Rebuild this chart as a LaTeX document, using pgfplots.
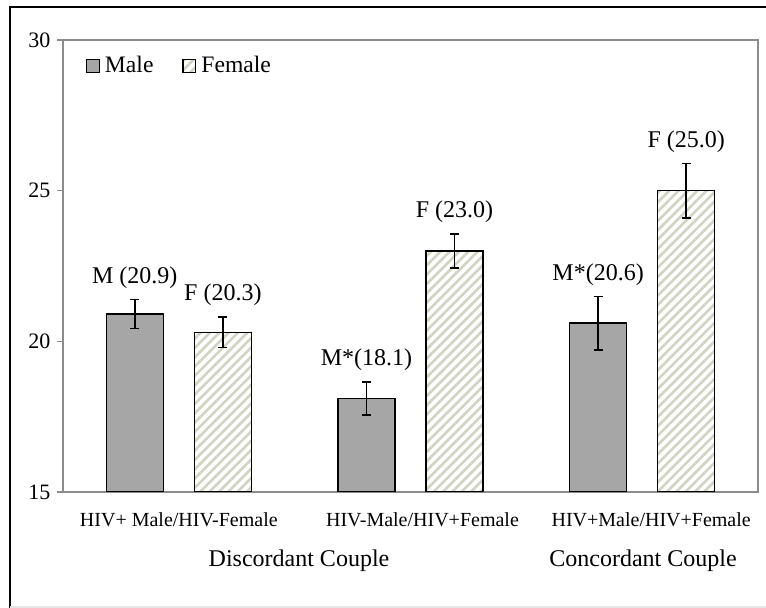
\documentclass[border=0pt]{standalone}
\usepackage{pgfplots}
\pgfplotsset{compat=1.18}
\usepackage{pgfplotstable}
\usepackage{fontspec}
\setmainfont{Liberation Serif}
\usetikzlibrary{patterns.meta}
\definecolor{malefill}{HTML}{A6A6A6}
\definecolor{hatch}{HTML}{D3D3C3}
\definecolor{axgray}{HTML}{8C8C8C}

\pgfplotstableread{
x y err lab
0 20.9 0.48 {M (20.9)}
1 18.1 0.55 {M*(18.1)}
2 20.6 0.88 {M*(20.6)}
}\male
\pgfplotstableread{
x y err lab
0 20.3 0.50 {F (20.3)}
1 23.0 0.56 {F (23.0)}
2 25.0 0.90 {F (25.0)}
}\female

\begin{document}
\begin{tikzpicture}
\useasboundingbox (0,0) rectangle (383pt,304pt);
\draw[black, line width=1pt] (5pt,0) -- (5pt,300.7pt) -- (383pt,300.7pt);
\draw[black!10, line width=0.6pt] (5pt,0.5pt) -- (383pt,0.5pt);
\begin{axis}[
  at={(31.5pt,58pt)}, anchor=south west,
  scale only axis, width=347.5pt, height=226pt,
  xmin=-0.5, xmax=2.5, ymin=15, ymax=30,
  xtick={0,1,2},
  xticklabels={{HIV+ Male/HIV-Female},{\hspace*{12pt}HIV-Male/HIV+Female},{\hspace*{9pt}HIV+Male/HIV+Female}},
  ytick={15,20,25,30},
  ytick pos=left, tick align=outside, major tick length=2.75pt,
  x tick style={draw=none},
  y tick style={axgray, line width=0.6pt},
  axis line style={axgray, line width=0.7pt},
  /pgf/number format/assume math mode=true,
  yticklabel style={font=\fontsize{11}{12}\selectfont},
  xticklabel style={font=\fontsize{10}{12}\selectfont, yshift=-4pt},
  legend columns=2,
  legend style={at={(0,1)}, anchor=north west, xshift=11.3pt, yshift=-6.5pt,
    draw=none, fill=none, inner sep=0pt,
    font=\fontsize{11.8}{13}\selectfont,
    nodes={inner xsep=2.5pt, inner ysep=1.5pt},
    /tikz/every even column/.append style={column sep=12pt}},
  legend image code/.code={\draw[#1, line width=0.6pt] (0pt,-3.2pt) rectangle (6.4pt,3.2pt);},
]
\addplot[ybar, bar width=28.5pt, bar shift=0pt, fill=malefill, draw=black, line width=0.75pt,
  error bars/.cd, y dir=both, y explicit,
  error bar style={black, line width=0.75pt},
  error mark options={rotate=90, mark size=2.25pt, black, line width=0.75pt}]
  table[x expr=\thisrow{x}-0.19, y=y, y error=err]{\male};
\addlegendentry{Male}
\addplot[ybar, bar width=28.5pt, bar shift=0pt, draw=black, line width=0.75pt,
  pattern={Lines[angle=45, distance=3.3pt, line width=1.3pt]}, pattern color=hatch,
  error bars/.cd, y dir=both, y explicit,
  error bar style={black, line width=0.75pt},
  error mark options={rotate=90, mark size=2.25pt, black, line width=0.75pt}]
  table[x expr=\thisrow{x}+0.19, y=y, y error=err]{\female};
\addlegendentry{Female}
\addplot[draw=none, mark=none, forget plot, nodes near coords, point meta=explicit symbolic,
  nodes near coords style={font=\fontsize{12}{14}\selectfont, anchor=south, inner sep=0pt, yshift=5.5pt, black}]
  table[x expr=\thisrow{x}-0.19, y expr=\thisrow{y}+\thisrow{err}, meta=lab]{\male};
\addplot[draw=none, mark=none, forget plot, nodes near coords, point meta=explicit symbolic,
  nodes near coords style={font=\fontsize{12}{14}\selectfont, anchor=south, inner sep=0pt, yshift=5.5pt, black}]
  table[x expr=\thisrow{x}+0.19, y expr=\thisrow{y}+\thisrow{err}, meta=lab]{\female};
\end{axis}
\node[anchor=base, font=\fontsize{12}{14}\selectfont] at (149.5pt,20.5pt) {Discordant Couple};
\node[anchor=base, font=\fontsize{12}{14}\selectfont] at (321.5pt,20.5pt) {Concordant Couple};
\end{tikzpicture}
\end{document}
